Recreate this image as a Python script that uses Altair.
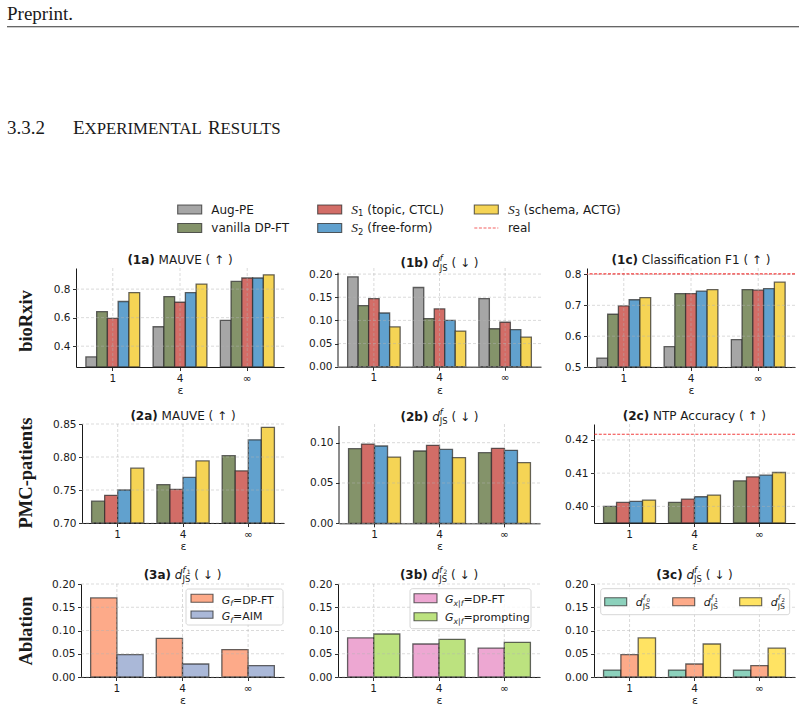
import altair as alt
import pandas as pd

# ---------------------------------------------------------------- data ----
EPS = ["1", "4", "∞"]

METHODS = ["Aug-PE", "vanilla DP-FT", "S1 (topic, CTCL)", "S2 (free-form)", "S3 (schema, ACTG)"]
METHOD_COLORS = ["#a6a6a6", "#84936a", "#d26d67", "#61a1ce", "#f5d455"]

BIO_MAUVE = {
    "Aug-PE":            [0.325, 0.536, 0.581],
    "vanilla DP-FT":     [0.642, 0.748, 0.854],
    "S1 (topic, CTCL)":  [0.595, 0.708, 0.878],
    "S2 (free-form)":    [0.713, 0.776, 0.878],
    "S3 (schema, ACTG)": [0.776, 0.835, 0.900],
}
BIO_DJS = {
    "Aug-PE":            [0.194, 0.171, 0.147],
    "vanilla DP-FT":     [0.132, 0.104, 0.082],
    "S1 (topic, CTCL)":  [0.147, 0.125, 0.096],
    "S2 (free-form)":    [0.116, 0.100, 0.080],
    "S3 (schema, ACTG)": [0.086, 0.077, 0.064],
}
BIO_F1 = {
    "Aug-PE":            [0.529, 0.566, 0.589],
    "vanilla DP-FT":     [0.671, 0.738, 0.751],
    "S1 (topic, CTCL)":  [0.698, 0.738, 0.749],
    "S2 (free-form)":    [0.718, 0.746, 0.754],
    "S3 (schema, ACTG)": [0.725, 0.751, 0.775],
}
BIO_F1_REAL = 0.802

PMC_MAUVE = {
    "vanilla DP-FT":     [0.733, 0.758, 0.802],
    "S1 (topic, CTCL)":  [0.742, 0.751, 0.779],
    "S2 (free-form)":    [0.750, 0.769, 0.826],
    "S3 (schema, ACTG)": [0.783, 0.794, 0.845],
}
PMC_DJS = {
    "vanilla DP-FT":     [0.0926, 0.0897, 0.0876],
    "S1 (topic, CTCL)":  [0.0983, 0.0967, 0.0930],
    "S2 (free-form)":    [0.0959, 0.0917, 0.0905],
    "S3 (schema, ACTG)": [0.0822, 0.0814, 0.0752],
}
PMC_NTP = {
    "vanilla DP-FT":     [0.4000, 0.4012, 0.4077],
    "S1 (topic, CTCL)":  [0.4012, 0.4022, 0.4089],
    "S2 (free-form)":    [0.4015, 0.4029, 0.4094],
    "S3 (schema, ACTG)": [0.4019, 0.4034, 0.4102],
}
PMC_NTP_REAL = 0.4217

GF = ["DP-FT", "AIM"]
GF_COLORS = ["#fc8d62", "#8da0cb"]
GF_DJS = {"DP-FT": [0.170, 0.083, 0.059], "AIM": [0.048, 0.028, 0.0245]}

GX = ["DP-FT", "prompting"]
GX_COLORS = ["#e78ac3", "#a6d854"]
GX_DJS = {"DP-FT": [0.084, 0.071, 0.062], "prompting": [0.0925, 0.081, 0.0745]}

FIELDS = ["0", "1", "2"]
FIELD_COLORS = ["#66c2a5", "#fc8d62", "#ffd92f"]
FIELD_DJS = {"0": [0.015, 0.015, 0.015], "1": [0.048, 0.028, 0.0245], "2": [0.084, 0.071, 0.062]}

ROW_LABELS = ["bioRxiv", "PMC-patients", "Ablation"]

# -------------------------------------------------------------- layout ----
PAGE_LEFT = 6
GUTTER_W = 40                # narrow view holding the row label
ROW_TOP = [268, 424, 584]    # common top edge of the plots in each row
BANDS = [(245, 400), (400, 560), (560, 711)]
ROW_LABEL_Y = [321, 473, 631]
# plot-area left, top, width, height of each panel (page pixels)
GEOM = {
    "1a": (75, 268.0, 208, 99), "1b": (337, 272.7, 203, 94.0), "1c": (586, 268.0, 208, 99),
    "2a": (81, 424.0, 202, 99), "2b": (338, 426.0, 201, 97.3), "2c": (593, 424.0, 201, 99),
    "3a": (80, 584.0, 203, 93), "3b": (337, 584.0, 202, 93.0), "3c": (593, 584.0, 201, 93),
}
HDR_H = 245
HDR_RIGHT = 798

INK = "#1a1a1a"
EDGE = "#2b2b2b"
SANS = "DejaVu Sans"
SERIF = "Liberation Serif"
GRID = dict(color="#b0b0b0", strokeWidth=0.8, strokeDash=[3, 2], opacity=0.6)
XSCALE = dict(paddingInner=0.2, paddingOuter=0.147)

ONE = pd.DataFrame({"k": [0]})

# advance widths (em) used to lay out mixed-style text runs
SANS_W = {" ": .318, "(": .390, ")": .390, ".": .318, ",": .318, "-": .361, "=": .838,
          "|": .337, "·": .318, "↑": .838, "↓": .838,
          "A": .684, "C": .698, "D": .770, "E": .632, "F": .575, "G": .775, "I": .295,
          "J": .295, "L": .557, "M": .863, "N": .748, "P": .603, "R": .695, "S": .635,
          "T": .611, "U": .732, "V": .684, "X": .685,
          "a": .613, "b": .635, "c": .550, "d": .635, "e": .615, "f": .352, "g": .635,
          "h": .634, "i": .278, "k": .579, "l": .278, "m": .974, "n": .634, "o": .612,
          "p": .635, "r": .411, "s": .521, "t": .392, "u": .634, "v": .592, "x": .592,
          "y": .592}
SANS_W.update({d: .636 for d in "0123456789"})
BOLD_W = {"(": .457, ")": .457, "a": .675, "b": .716, "c": .593}
BOLD_W.update({d: .696 for d in "0123456789"})
SERIF_W = {"S": .5, "E": .611, "X": .722, "P": .556, "R": .667, "I": .333, "M": .889,
           "N": .722, "T": .611, "A": .722, "L": .611, "U": .722, ".": .25, " ": .25}
SERIF_W.update({d: .5 for d in "0123456789"})


def txt(text, x, y, size=12, weight="normal", style="normal", font=SANS,
        align="left", baseline="alphabetic", angle=0, color=INK):
    kw = dict(text=text, font=font, fontSize=size, fontWeight=weight, fontStyle=style,
              align=align, baseline=baseline, color=color)
    if angle:
        kw["angle"] = angle
    return alt.Chart(ONE).mark_text(**kw).encode(x=alt.value(x), y=alt.value(y))


def anchor(x, y, baseline="top"):
    # empty text that pins the outer edge of a view
    return txt(" ", x, y, size=1, baseline=baseline)


def run(t, size=12, weight="normal", style="normal", dy=0.0, dx=0.0, font=SANS):
    return dict(t=t, size=size, weight=weight, style=style, dy=dy, dx=dx, font=font)


def run_width(r):
    if r["font"] == SERIF:
        table = SERIF_W
    elif r["weight"] == "bold":
        table = BOLD_W
    else:
        table = SANS_W
    return r["dx"] + r["size"] * sum(table.get(c, SANS_W.get(c, .6)) for c in r["t"])


def rich(pieces, x, base, center=False):
    """Lay out runs left to right; a number is a gap, a list is a stack of runs."""
    widths = [p if isinstance(p, (int, float)) else max(run_width(r) for r in p) for p in pieces]
    if center:
        x -= sum(widths) / 2
    out = []
    for p, w in zip(pieces, widths):
        if not isinstance(p, (int, float)):
            for r in p:
                out.append(txt(r["t"], x + r["dx"], base + r["dy"], r["size"], r["weight"],
                               r["style"], r["font"]))
        x += w
    return out


def d_js(size, sub_of_sup=None):
    s = size * 0.7
    stack = [run("f", s, style="italic", dy=-0.48 * size)]
    if sub_of_sup:
        stack.append(run(sub_of_sup, size * 0.5, dy=-0.36 * size, dx=s * 0.5))
    stack.append(run("JS", s, dy=0.28 * size))
    return [[run("d", size, style="italic")], stack]


SP = 0.318 * 12
DOWN = [[run("( ↓ )")]]


def yscale(lo, hi):
    return alt.Scale(domain=[lo, hi], zero=False, nice=False)


def bar_panel(key, values, series, colors, lo, hi, ticks, fmt, tag, body, math,
              real=None, opacity=1.0, extras=()):
    L, T_ref, W, H_ref = GEOM[key]
    T = ROW_TOP[int(key[0]) - 1]
    shift = T_ref - T
    H = H_ref + shift
    top = hi + shift * (hi - lo) / H_ref      # value at the shared row top
    ys = yscale(lo, top)
    xs = alt.Scale(**XSCALE)
    xaxis = alt.Axis(title="ε", labelAngle=0)
    yaxis = alt.Axis(values=ticks, format=fmt, title=None, labelOverlap=False,
                     domain=shift < 0.5)

    rows = [{"eps": e, "series": s, "value": v} for s in series for e, v in zip(EPS, values[s])]
    bars = alt.Chart(pd.DataFrame(rows)).mark_bar(
        stroke=EDGE, strokeWidth=1.3, strokeOpacity=0.72, fillOpacity=opacity
    ).encode(
        x=alt.X("eps:N", sort=EPS, scale=xs, axis=xaxis),
        xOffset=alt.XOffset("series:N", sort=series,
                            scale=alt.Scale(paddingInner=0, paddingOuter=0)),
        y=alt.Y("value:Q", scale=ys, stack=False, axis=yaxis),
        y2=alt.datum(lo),
        fill=alt.Fill("series:N", scale=alt.Scale(domain=series, range=colors), legend=None),
    )
    ygrid = alt.Chart(pd.DataFrame({"value": ticks})).mark_rule(**GRID).encode(
        y=alt.Y("value:Q", scale=ys, axis=yaxis))
    xgrid = alt.Chart(pd.DataFrame({"eps": EPS})).mark_rule(**GRID).encode(
        x=alt.X("eps:N", sort=EPS, scale=xs, axis=xaxis))
    layers = [bars, ygrid, xgrid]
    if shift >= 0.5:
        # left spine over the data range only
        layers.append(alt.Chart(pd.DataFrame({"value": [lo], "end": [hi]})).mark_rule(
            color=INK, strokeWidth=1.0).encode(
            x=alt.value(0), y=alt.Y("value:Q", scale=ys, axis=yaxis), y2="end:Q"))
    if real is not None:
        layers.append(alt.Chart(pd.DataFrame({"value": [real]})).mark_rule(
            color="#ee1c1c", strokeDash=[3, 1.6], strokeWidth=1.1, opacity=0.85
        ).encode(y=alt.Y("value:Q", scale=ys, axis=yaxis)))
    layers += list(extras)
    pieces = [[run(tag, 12, weight="bold")], SP] + body
    base = (T_ref - (5.5 if math else 4.0)) - T
    layers += rich(pieces, W / 2, base, center=True)
    return layers, (L, T, W, H)


def swatch(x0, y0, w, h, color, opacity=1.0):
    return alt.Chart(ONE).mark_rect(
        fill=color, fillOpacity=opacity, stroke=EDGE, strokeWidth=1.1, strokeOpacity=0.75
    ).encode(x=alt.value(x0), x2=alt.value(x0 + w), y=alt.value(y0), y2=alt.value(y0 + h))


def frame(x0, x1, y0, y1):
    return alt.Chart(ONE).mark_rect(
        fill="white", fillOpacity=0.8, stroke="#cccccc", strokeWidth=0.8, cornerRadius=2.5
    ).encode(x=alt.value(x0), x2=alt.value(x1), y=alt.value(y0), y2=alt.value(y1))


def g_label(sub, text):
    return [[run("G", 11, style="italic")], [run(sub, 7.7, style="italic", dy=2.5)],
            [run(text, 11)]]


# ------------------------------------------------------------- ablation legends
leg_3a = [frame(105, 202, 5, 41)]
for (y0, y1, base), name, col in zip([(10.3, 18.3, 19.8), (27, 34.3, 36.2)], GF, GF_COLORS):
    leg_3a.append(swatch(110, y0, 22, y1 - y0, col, 0.75))
    leg_3a += rich(g_label("f", "=" + name), 140.7, base)

leg_3b = [frame(72, 193, 4.7, 44.7)]
for (y0, y1, base), name, col in zip([(9.7, 18.7, 19.2), (28.7, 36.7, 37.0)], GX, GX_COLORS):
    leg_3b.append(swatch(76, y0, 23, y1 - y0, col, 0.75))
    leg_3b += rich(g_label("x|f", "=" + name), 107, base)

leg_3c = [frame(6.7, 195.7, 4.7, 30.7)]
for x0, k, col in zip([10.7, 78.7, 145.7], FIELDS, FIELD_COLORS):
    leg_3c.append(swatch(x0, 13.7, 22, 8, col, 0.75))
    leg_3c += rich(d_js(11, k), x0 + 31, 21.5)

# ------------------------------------------------------------------ panels ----
MAIN_R2 = METHODS[1:]
COL_R2 = METHOD_COLORS[1:]
T02 = [0, 0.05, 0.10, 0.15, 0.20]

row_panels = [
    [
        bar_panel("1a", BIO_MAUVE, METHODS, METHOD_COLORS, 0.254, 0.948, [0.4, 0.6, 0.8], ".1f",
                  "(1a)", [[run("MAUVE ( ↑ )")]], False),
        bar_panel("1b", BIO_DJS, METHODS, METHOD_COLORS, 0, 0.203, T02, ".2f",
                  "(1b)", d_js(12) + [SP] + DOWN, True),
        bar_panel("1c", BIO_F1, METHODS, METHOD_COLORS, 0.5, 0.821, [0.5, 0.6, 0.7, 0.8], ".1f",
                  "(1c)", [[run("Classification F1 ( ↑ )")]], False, real=BIO_F1_REAL),
    ],
    [
        bar_panel("2a", PMC_MAUVE, MAIN_R2, COL_R2, 0.70, 0.85, [0.70, 0.75, 0.80, 0.85], ".2f",
                  "(2a)", [[run("MAUVE ( ↑ )")]], False),
        bar_panel("2b", PMC_DJS, MAIN_R2, COL_R2, 0, 0.1207, [0, 0.05, 0.10], ".2f",
                  "(2b)", d_js(12) + [SP] + DOWN, True),
        bar_panel("2c", PMC_NTP, MAIN_R2, COL_R2, 0.395, 0.4248, [0.40, 0.41, 0.42], ".2f",
                  "(2c)", [[run("NTP Accuracy ( ↑ )")]], False, real=PMC_NTP_REAL),
    ],
    [
        bar_panel("3a", GF_DJS, GF, GF_COLORS, 0, 0.2, T02, ".2f",
                  "(3a)", d_js(12, "1") + [SP] + DOWN, True, opacity=0.75, extras=leg_3a),
        bar_panel("3b", GX_DJS, GX, GX_COLORS, 0, 0.2, T02, ".2f",
                  "(3b)", d_js(12, "2") + [SP] + DOWN, True, opacity=0.75, extras=leg_3b),
        bar_panel("3c", FIELD_DJS, FIELDS, FIELD_COLORS, 0, 0.2, T02, ".2f",
                  "(3c)", d_js(12, "·") + [SP] + DOWN, True, opacity=0.75, extras=leg_3c),
    ],
]


def assemble(r, panels):
    Bt, Bb = BANDS[r]
    T = ROW_TOP[r]
    H = panels[0][1][3]
    gutter = alt.layer(
        anchor(0, Bt - T, "top"),
        anchor(0, Bb - T, "bottom"),
        anchor(GUTTER_W - 0.4, H / 2, "top"),
        txt(ROW_LABELS[r], 25 - PAGE_LEFT, ROW_LABEL_Y[r] - T, 18.5, "bold",
            font=SERIF, align="center", baseline="middle", angle=270),
    ).properties(width=GUTTER_W, height=H)
    charts = [gutter]
    prev_right, pad = PAGE_LEFT + GUTTER_W, 0
    for layers, (L, T, W, H) in panels:
        extra = [anchor(prev_right - L + pad, H / 2, "top")]
        charts.append(alt.layer(*layers, *extra).properties(width=W, height=H))
        # the bottom axis line of a plot reaches half a pixel past its right edge
        prev_right, pad = L + W, 1
    return alt.hconcat(*charts, spacing=0, bounds="full").resolve_scale(
        fill="independent", xOffset="independent")


rows = [assemble(r, p) for r, p in enumerate(row_panels)]

# ------------------------------------------------------------------ header ----
HX = -PAGE_LEFT   # header x positions are page positions shifted by the left padding
header_layers = [
    anchor(0, 0, "top"), anchor(0, HDR_H, "bottom"),
    txt("Preprint.", 0, 20, 19, font=SERIF),
    alt.Chart(ONE).mark_rule(color="#333333", strokeWidth=1.1).encode(
        x=alt.value(0), x2=alt.value(HDR_RIGHT + HX), y=alt.value(26.7)),
    txt("3.3.2", 0, 134, 19, font=SERIF),
]
header_layers += rich([[run("E", 19, font=SERIF)], [run("XPERIMENTAL", 16.8, font=SERIF)],
                       0.25 * 19, [run("R", 19, font=SERIF)], [run("ESULTS", 16.8, font=SERIF)]],
                      72 + HX, 134)

LEG_X = [176.7 + HX, 316.7 + HX, 473.3 + HX]
LEG_Y = [205, 223.5]
SW_W, SW_H = 24, 9


def method_label(name):
    if name[0] == "S" and name[1].isdigit():
        return [[run("S", 13.5, style="italic", font=SERIF)], [run(name[1], 8.4, dy=2.5)],
                SP, [run(name[3:], 12)]]
    return [[run(name, 12)]]


for i, (name, color) in enumerate(zip(METHODS, METHOD_COLORS)):
    col, row = divmod(i, 2)
    x0, y0 = LEG_X[col], LEG_Y[row]
    header_layers.append(swatch(x0, y0, SW_W, SW_H, color))
    header_layers += rich(method_label(name), x0 + SW_W + 9.6, y0 + 8.8)

x0, y0 = LEG_X[2], LEG_Y[1]
header_layers.append(alt.Chart(ONE).mark_rule(
    color="#ee1c1c", strokeDash=[3, 1.6], strokeWidth=1.1, opacity=0.7
).encode(x=alt.value(x0), x2=alt.value(x0 + SW_W), y=alt.value(y0 + SW_H / 2)))
header_layers.append(txt("real", x0 + SW_W + 9.6, y0 + 8.8, 12))

header = alt.layer(*header_layers).properties(width=HDR_RIGHT + HX, height=HDR_H)

chart = alt.vconcat(header, *rows, spacing=0, bounds="full").resolve_scale(
    fill="independent", xOffset="independent"
).properties(
    padding={"left": PAGE_LEFT, "right": 0, "top": 0, "bottom": 0}
).configure_view(
    strokeWidth=0
).configure_axis(
    labelFont=SANS, labelFontSize=10.5, labelColor=INK, labelPadding=2.5,
    tickColor=INK, tickSize=3.5, tickWidth=0.9,
    domainColor=INK, domainWidth=1.0,
    titleFont=SANS, titleFontSize=11, titleFontWeight="normal", titleColor=INK,
    titlePadding=1, grid=False, zindex=1,
)

chart.save("out.html", embed_options={"renderer": "svg", "actions": False})
